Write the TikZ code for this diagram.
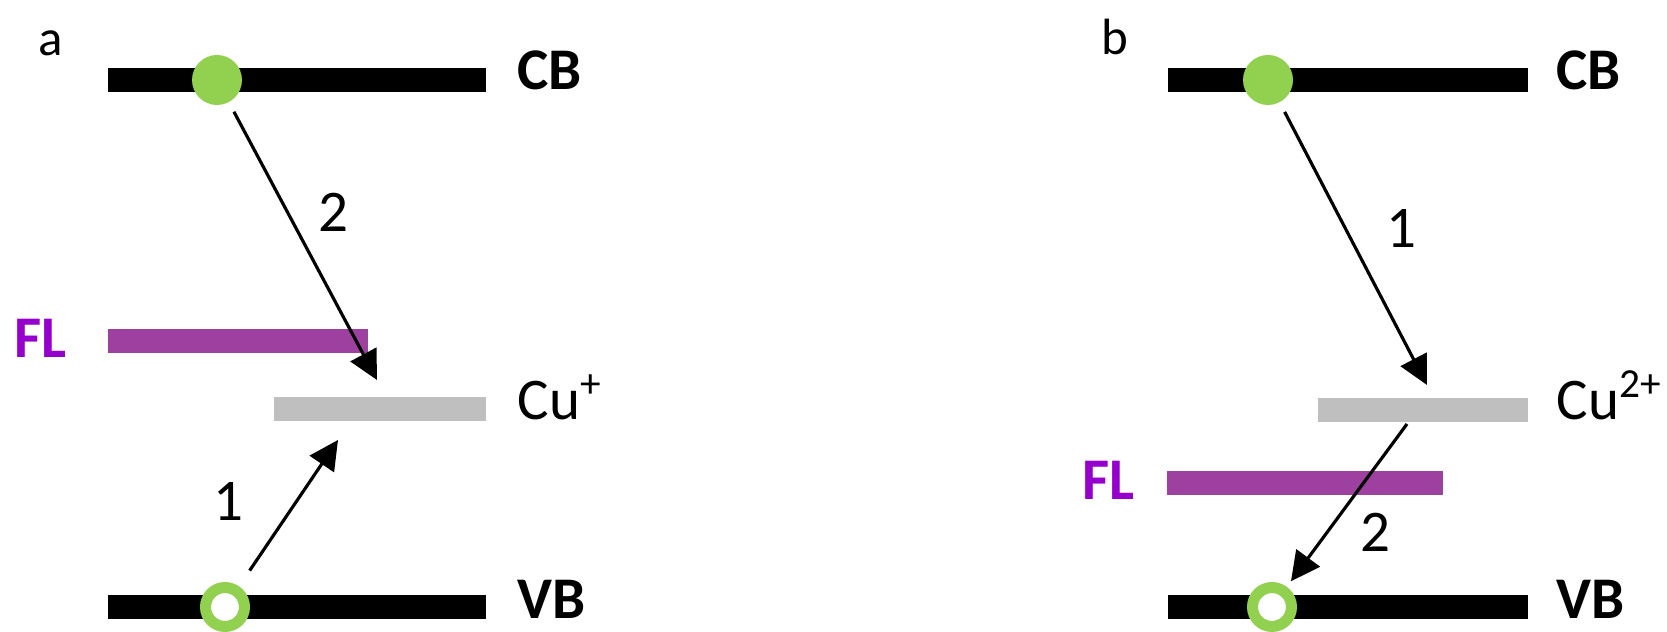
\documentclass[tikz,border=0pt]{standalone}
\usepackage{fontspec}
\setmainfont{Carlito}
\usetikzlibrary{arrows.meta}

\definecolor{egreen}{RGB}{146,208,80}
\definecolor{flbar}{RGB}{158,64,160}
\definecolor{fltext}{RGB}{150,0,204}
\definecolor{cubar}{RGB}{191,191,191}

\tikzset{
  band/.style={line width=0.24cm, black},
  fermi/.style={line width=0.24cm, flbar},
  culevel/.style={line width=0.24cm, cubar},
  electron/.style={circle, fill=egreen, minimum size=0.5cm, inner sep=0pt, outer sep=0pt},
  hole/.style={circle, draw=egreen, fill=white, line width=0.11cm, minimum size=0.39cm, inner sep=0pt, outer sep=0.055cm},
  transfer/.style={line width=0.9pt, -{Triangle[length=0.29cm,width=0.29cm]}},
  lvl/.style={inner sep=0pt, font=\fontsize{16.8}{20}\selectfont},
  bandlbl/.style={inner sep=0pt, font=\fontsize{16.8}{20}\selectfont\bfseries},
  panel/.style={inner sep=0pt, anchor=base west, font=\fontsize{14.5}{17}\selectfont}
}

\begin{document}
\begin{tikzpicture}
			\useasboundingbox (0,0) rectangle (16.67,6.32);
			
			%%%%% PANEL A %%%%%
			
			\node[panel] (pa) at (0.38,5.76) {a};
			
			\draw[band] (1.08,5.52) -- (4.86,5.52);
			\draw[band] (1.08,0.25) -- (4.86,0.25);
			\draw[fermi] (1.08,2.91) -- (3.68,2.91);
			\draw[culevel] (2.74,2.23) -- (4.86,2.23);
			
			\node[bandlbl, anchor=base west] (cba) at (5.17,5.42) {CB};
			\node[bandlbl, anchor=base west] (vba) at (5.17,0.13) {VB};
			\node[lvl, anchor=base west] (cua) at (5.17,2.12) {Cu\textsuperscript{+}};
			\node[bandlbl, anchor=base east, text=fltext] (fla) at (0.67,2.74) {FL};
			
			\node[electron] (ea) at (2.17,5.52) {};
			\node[hole] (ha) at (2.25,0.25) {};
			
			\coordinate (a2e) at (3.77,2.52);
			\coordinate (a1e) at (3.38,1.92);
			\draw[transfer, shorten <=0.11cm] (ea) -- (a2e);
			\draw[transfer, shorten <=0.19cm] (ha) -- (a1e);
			
			\node[lvl] (na2) at (3.33,4.20) {2};
			\node[lvl] (na1) at (2.28,1.30) {1};
			
			%%%%% PANEL B %%%%%
			
			\node[panel] (pb) at (11.01,5.77) {b};
			
			\draw[band] (11.68,5.52) -- (15.28,5.52);
			\draw[band] (11.68,0.25) -- (15.28,0.25);
			\draw[culevel] (13.18,2.22) -- (15.28,2.22);
			\draw[fermi] (11.67,1.49) -- (14.43,1.49);
			
			\node[bandlbl, anchor=base west] (cbb) at (15.56,5.42) {CB};
			\node[bandlbl, anchor=base west] (vbb) at (15.56,0.13) {VB};
			\node[lvl, anchor=base west] (cub) at (15.56,2.12) {Cu\textsuperscript{2+}};
			\node[bandlbl, anchor=base east, text=fltext] (flb) at (11.35,1.32) {FL};
			
			\node[electron] (eb) at (12.68,5.52) {};
			\node[hole] (hb) at (12.72,0.25) {};
			
			\coordinate (b1e) at (14.27,2.47);
			\coordinate (b2s) at (14.07,2.08);
			\draw[transfer, shorten <=0.11cm] (eb) -- (b1e);
			\draw[transfer, shorten >=0.07cm] (b2s) -- (hb);
			
			\node[lvl] (nb1) at (14.01,4.03) {1};
			\node[lvl] (nb2) at (13.75,1.00) {2};
			
			%%%%% END %%%%%
\end{tikzpicture}
\end{document}
